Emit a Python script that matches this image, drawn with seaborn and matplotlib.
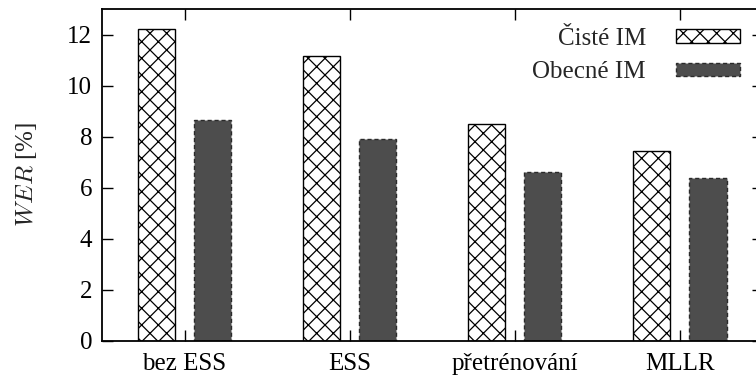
import matplotlib
matplotlib.use("Agg")
import matplotlib.pyplot as plt
import seaborn as sns
import pandas as pd

categories = ["bez ESS", "ESS", "přetrénování", "MLLR"]
series_names = ["Čisté IM", "Obecné IM"]
clean_im = [12.2, 11.15, 8.5, 7.42]
general_im = [8.67, 7.9, 6.6, 6.4]
y_ticks = [0, 2, 4, 6, 8, 10, 12]

df = pd.DataFrame({
    "kategorie": categories * 2,
    "WER": clean_im + general_im,
    "model": [series_names[0]] * len(categories) + [series_names[1]] * len(categories),
})

sns.set_theme(style="ticks")
plt.rcParams["font.family"] = ["Liberation Serif", "DejaVu Serif"]
plt.rcParams["mathtext.fontset"] = "cm"
plt.rcParams["axes.unicode_minus"] = False
plt.rcParams["hatch.linewidth"] = 0.9

fig = plt.figure(figsize=(7.56, 3.76), dpi=100)
ax = fig.add_axes([0.1349, 0.0931, 0.8737, 0.8830])

sns.barplot(data=df, x="kategorie", y="WER", hue="model", order=categories,
            hue_order=series_names, width=0.68, gap=0.34, ax=ax,
            errorbar=None, legend=False)

clean_bars, general_bars = ax.containers[0], ax.containers[1]
for p in clean_bars:
    p.set_facecolor("white")
    p.set_edgecolor("black")
    p.set_hatch("xx")
    p.set_linewidth(1.0)
for p in general_bars:
    p.set_facecolor("#4d4d4d")
    p.set_edgecolor("#2a2a2a")
    p.set_linestyle((0, (3, 2)))
    p.set_linewidth(1.0)

ax.set_xlim(-0.5, 3.5)
ax.set_ylim(0, 13)
ax.set_yticks(y_ticks)
ax.set_yticklabels([str(t) for t in y_ticks])
ax.set_xlabel("")
ax.set_ylabel(r"$\mathit{WER}$ [%]", fontsize=18, labelpad=20)

for s in ax.spines.values():
    s.set_visible(True)
    s.set_linewidth(1.3)
    s.set_color("black")

ax.tick_params(axis="both", which="major", direction="in", length=8, width=1.0,
               top=True, right=True, labelsize=18, colors="black")
ax.tick_params(axis="x", pad=9)
ax.tick_params(axis="y", pad=7)

leg = ax.legend([clean_bars.patches[0], general_bars.patches[0]], series_names,
                loc="upper right", bbox_to_anchor=(0.993, 0.995), frameon=False,
                markerfirst=False, fontsize=18, handlelength=2.58,
                handleheight=0.48, labelspacing=0.45, handletextpad=1.2,
                borderaxespad=0.3)

fig.savefig("out.png", dpi=100)
